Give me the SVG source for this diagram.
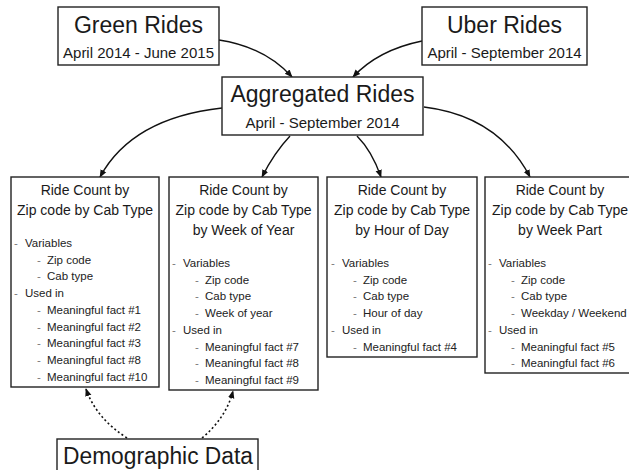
<svg xmlns="http://www.w3.org/2000/svg" width="629" height="470" viewBox="0 0 629 470">
  <defs>
    <marker id="arrow" viewBox="0 0 10 10" refX="9" refY="5" markerWidth="8" markerHeight="8" markerUnits="userSpaceOnUse" orient="auto">
      <path d="M0,1 L10,5 L0,9 Z" fill="#111"/>
    </marker>
  </defs>
  <style>
    .box { fill: #fff; stroke: #222; stroke-width: 1.4; }
    text { font-family: "Liberation Sans", Arial, Helvetica, sans-serif; fill: #1a1a1a; }
    .big { font-size: 23px; text-anchor: middle; }
    .sub { font-size: 15px; text-anchor: middle; }
    .head { font-size: 14px; text-anchor: middle; }
    .item { font-size: 11.5px; fill: #222; }
    .dash { font-size: 11.5px; fill: #777; }
    .link { fill: none; stroke: #111; stroke-width: 1.4; marker-end: url(#arrow); }
    .dotted { stroke-dasharray: 2 2.5; stroke-width: 1.6; }
  </style>

  <!-- connectors -->
  <g id="connectors">
    <path class="link" d="M219,40 Q265,47 292,77"/>
    <path class="link" d="M422,41 Q378,50 353,77"/>
    <path class="link" d="M222,108 Q132,118 100,177"/>
    <path class="link" d="M290,136 Q274,153 262,177"/>
    <path class="link" d="M357,136 Q372,151 381,177"/>
    <path class="link" d="M424,107 Q498,116 530,177"/>
    <path class="link dotted" d="M127,438 Q96,418 86,389"/>
    <path class="link dotted" d="M202,438 Q226,418 233,391"/>
  </g>

  <!-- source nodes -->
  <g id="green-rides">
    <rect class="box" x="58" y="7" width="161" height="58"/>
    <text class="big" x="138.5" y="33">Green Rides</text>
    <text class="sub" x="138.5" y="58">April 2014 - June 2015</text>
  </g>
  <g id="uber-rides">
    <rect class="box" x="422" y="7" width="165" height="58"/>
    <text class="big" x="504.5" y="33">Uber Rides</text>
    <text class="sub" x="504.5" y="58">April - September 2014</text>
  </g>
  <g id="aggregated-rides">
    <rect class="box" x="222" y="77" width="201" height="58"/>
    <text class="big" x="322.5" y="102">Aggregated Rides</text>
    <text class="sub" x="322.5" y="128">April - September 2014</text>
  </g>

  <!-- aggregate tables -->
  <g id="count-zip-cab">
    <rect class="box" x="11" y="177" width="148" height="210"/>
    <text class="head" x="85" y="195">Ride Count by</text>
    <text class="head" x="85" y="215">Zip code by Cab Type</text>
    <text class="dash" x="14" y="247">-</text><text class="item" x="25" y="247">Variables</text>
    <text class="dash" x="37" y="263.7">-</text><text class="item" x="47" y="263.7">Zip code</text>
    <text class="dash" x="37" y="280.4">-</text><text class="item" x="47" y="280.4">Cab type</text>
    <text class="dash" x="14" y="297.1">-</text><text class="item" x="25" y="297.1">Used in</text>
    <text class="dash" x="37" y="313.8">-</text><text class="item" x="47" y="313.8">Meaningful fact #1</text>
    <text class="dash" x="37" y="330.5">-</text><text class="item" x="47" y="330.5">Meaningful fact #2</text>
    <text class="dash" x="37" y="347.2">-</text><text class="item" x="47" y="347.2">Meaningful fact #3</text>
    <text class="dash" x="37" y="363.9">-</text><text class="item" x="47" y="363.9">Meaningful fact #8</text>
    <text class="dash" x="37" y="380.6">-</text><text class="item" x="47" y="380.6">Meaningful fact #10</text>
  </g>

  <g id="count-week-of-year">
    <rect class="box" x="169" y="177" width="149" height="213"/>
    <text class="head" x="243.5" y="195">Ride Count by</text>
    <text class="head" x="243.5" y="215">Zip code by Cab Type</text>
    <text class="head" x="243.5" y="235">by Week of Year</text>
    <text class="dash" x="172" y="267">-</text><text class="item" x="183" y="267">Variables</text>
    <text class="dash" x="195" y="283.7">-</text><text class="item" x="205" y="283.7">Zip code</text>
    <text class="dash" x="195" y="300.4">-</text><text class="item" x="205" y="300.4">Cab type</text>
    <text class="dash" x="195" y="317.1">-</text><text class="item" x="205" y="317.1">Week of year</text>
    <text class="dash" x="172" y="333.8">-</text><text class="item" x="183" y="333.8">Used in</text>
    <text class="dash" x="195" y="350.5">-</text><text class="item" x="205" y="350.5">Meaningful fact #7</text>
    <text class="dash" x="195" y="367.2">-</text><text class="item" x="205" y="367.2">Meaningful fact #8</text>
    <text class="dash" x="195" y="383.9">-</text><text class="item" x="205" y="383.9">Meaningful fact #9</text>
  </g>

  <g id="count-hour-of-day">
    <rect class="box" x="327" y="177" width="150" height="180"/>
    <text class="head" x="402" y="195">Ride Count by</text>
    <text class="head" x="402" y="215">Zip code by Cab Type</text>
    <text class="head" x="402" y="235">by Hour of Day</text>
    <text class="dash" x="331" y="267">-</text><text class="item" x="342" y="267">Variables</text>
    <text class="dash" x="353" y="283.7">-</text><text class="item" x="363" y="283.7">Zip code</text>
    <text class="dash" x="353" y="300.4">-</text><text class="item" x="363" y="300.4">Cab type</text>
    <text class="dash" x="353" y="317.1">-</text><text class="item" x="363" y="317.1">Hour of day</text>
    <text class="dash" x="331" y="333.8">-</text><text class="item" x="342" y="333.8">Used in</text>
    <text class="dash" x="353" y="350.5">-</text><text class="item" x="363" y="350.5">Meaningful fact #4</text>
  </g>

  <g id="count-week-part">
    <rect class="box" x="485" y="177" width="150" height="196"/>
    <text class="head" x="560" y="195">Ride Count by</text>
    <text class="head" x="560" y="215">Zip code by Cab Type</text>
    <text class="head" x="560" y="235">by Week Part</text>
    <text class="dash" x="488" y="267">-</text><text class="item" x="499" y="267">Variables</text>
    <text class="dash" x="511" y="283.7">-</text><text class="item" x="521" y="283.7">Zip code</text>
    <text class="dash" x="511" y="300.4">-</text><text class="item" x="521" y="300.4">Cab type</text>
    <text class="dash" x="511" y="317.1">-</text><text class="item" x="521" y="317.1">Weekday / Weekend</text>
    <text class="dash" x="488" y="333.8">-</text><text class="item" x="499" y="333.8">Used in</text>
    <text class="dash" x="511" y="350.5">-</text><text class="item" x="521" y="350.5">Meaningful fact #5</text>
    <text class="dash" x="511" y="367.2">-</text><text class="item" x="521" y="367.2">Meaningful fact #6</text>
  </g>

  <!-- external data -->
  <g id="demographic-data">
    <rect class="box" x="57" y="439" width="201" height="40"/>
    <text x="158" y="464" font-size="23" text-anchor="middle" textLength="190" lengthAdjust="spacingAndGlyphs">Demographic Data</text>
  </g>
</svg>
